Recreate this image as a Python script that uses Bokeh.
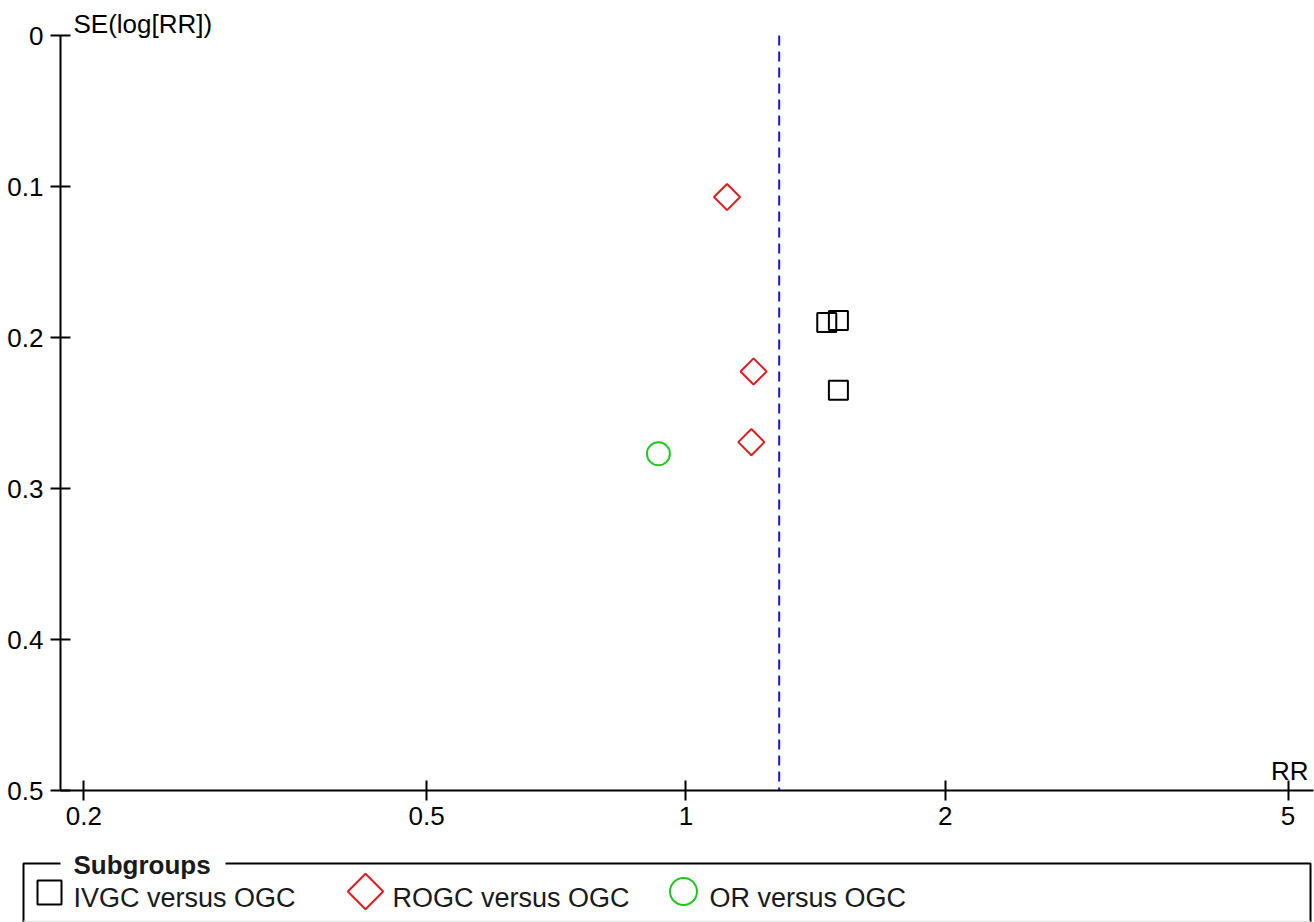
import math
import numpy as np
from bokeh.plotting import figure
from bokeh.models import (Range1d, FixedTicker, Label, ColumnDataSource,
                          LinearAxis, LogAxis, LinearScale)
from bokeh.core.properties import value
from bokeh.embed import file_html
from bokeh.resources import INLINE

# ---------------- data ----------------
subgroup_names = ["IVGC versus OGC", "ROGC versus OGC", "OR versus OGC"]

ivgc_rr = [1.457, 1.503, 1.503]
ivgc_se = [0.190, 0.1887, 0.235]

rogc_rr = [1.116, 1.198, 1.191]
rogc_se = [0.107, 0.2225, 0.2693]

or_rr = [0.929]
or_se = [0.277]

pooled_rr = 1.283

x_ticks = [0.2, 0.5, 1, 2, 5]
x_tick_labels = ["0.2", "0.5", "1", "2", "5"]
y_ticks = [0, 0.1, 0.2, 0.3, 0.4, 0.5]
y_tick_labels = ["0", "0.1", "0.2", "0.3", "0.4", "0.5"]

x_axis_title = "RR"
y_axis_title = "SE(log[RR])"
legend_title = "Subgroups"

# ---------------- layout / styles ----------------
W, H = 1314, 922
FONT = "Liberation Sans"
RED = "#dc1e1e"
GREEN = "#1ec81e"
BLUE = "#1414e6"

# axis extents (data) and where they sit on the canvas (pixels)
x_lo, x_hi = 0.18788, 5.352
se_top, se_bot = y_ticks[0], y_ticks[-1]
frame_l, frame_r, frame_t, frame_b = 60, 1313, 35, 790

dpp = (math.log10(x_hi) - math.log10(x_lo)) / (frame_r - frame_l)
x_start = 10 ** (math.log10(x_lo) - frame_l * dpp)
x_end = 10 ** (math.log10(x_hi) + (W - frame_r) * dpp)
spp = (se_bot - se_top) / (frame_b - frame_t)
y_top_val = se_top - frame_t * spp
y_bot_val = se_bot + (H - frame_b) * spp

p = figure(width=W, height=H, x_axis_type="log",
           x_range=Range1d(x_start, x_end), y_range=Range1d(y_bot_val, y_top_val),
           x_axis_location=None, y_axis_location=None,
           output_backend="svg", toolbar_location=None, min_border=0)
p.xgrid.visible = False
p.ygrid.visible = False
p.outline_line_color = None
p.background_fill_color = "white"
p.border_fill_color = "white"

# pixel-space ranges for decoration (legend box, titles)
p.extra_x_ranges = {"px": Range1d(0, W)}
p.extra_x_scales = {"px": LinearScale()}
p.extra_y_ranges = {"py": Range1d(H, 0)}
p.extra_y_scales = {"py": LinearScale()}

xaxis = LogAxis(fixed_location=se_bot, bounds=(x_lo, x_hi),
                ticker=FixedTicker(ticks=x_ticks),
                major_label_overrides=dict(zip(x_ticks, x_tick_labels)),
                major_label_standoff=6)
yaxis = LinearAxis(fixed_location=x_lo, bounds=(se_top, se_bot),
                   ticker=FixedTicker(ticks=y_ticks),
                   major_label_overrides=dict(zip(y_ticks, y_tick_labels)),
                   major_label_standoff=7)
for ax in (xaxis, yaxis):
    ax.axis_line_width = 2
    ax.axis_line_color = "black"
    ax.major_tick_line_width = 2
    ax.major_tick_line_color = "black"
    ax.major_tick_in = 10
    ax.major_tick_out = 10
    ax.minor_tick_line_color = None
    ax.major_label_text_font = FONT
    ax.major_label_text_font_size = "26px"
    ax.major_label_text_color = "black"
p.add_layout(xaxis, "below")
p.add_layout(yaxis, "left")

# pooled estimate (dashed vertical)
p.segment(x0=[pooled_rr], y0=[se_top], x1=[pooled_rr], y1=[se_bot],
          line_color=BLUE, line_width=2, line_dash="10 6")

p.scatter(ivgc_rr, ivgc_se, marker="square", size=19, fill_color=None,
          line_color="black", line_width=2)
p.scatter(rogc_rr, rogc_se, marker="square", angle=np.pi / 4, size=18.5,
          fill_color=None, line_color=RED, line_width=2)
p.scatter(or_rr, or_se, marker="circle", size=23, fill_color=None,
          line_color=GREEN, line_width=2)

# axis titles
p.add_layout(Label(x=73, y=23, x_range_name="px", y_range_name="py",
                   text=y_axis_title, text_font=FONT, text_font_size="26px",
                   text_baseline="middle", text_align="left", text_color="black"))
p.add_layout(Label(x=1308, y=770, x_range_name="px", y_range_name="py",
                   text=x_axis_title, text_font=FONT, text_font_size="26px",
                   text_baseline="middle", text_align="right", text_color="black"))

# ---------------- legend box ----------------
p.multi_line(xs=[[60, 23, 23], [225, 1310, 1310]], ys=[[863, 863, H], [863, 863, H]],
             line_color="black", line_width=2, x_range_name="px", y_range_name="py")
p.line([23, 1310], [921, 921], line_color="#e2e2e2", line_width=1.5,
       x_range_name="px", y_range_name="py")

p.text(x=[73], y=[864], text=[legend_title], text_font=value(FONT),
       text_font_style="bold", text_font_size="26px", text_baseline="middle",
       text_color="#1a1a1a", x_range_name="px", y_range_name="py")

leg_src = ColumnDataSource(dict(
    x=[49, 365, 683], y=[892, 891, 891],
    marker=["square", "square", "circle"],
    angle=[0, np.pi / 4, 0], size=[24, 25, 27],
    color=["black", RED, GREEN],
))
p.scatter(x="x", y="y", marker="marker", angle="angle", size="size",
          line_color="color", fill_color=None, line_width=2, source=leg_src,
          x_range_name="px", y_range_name="py")
p.text(x=[73, 392, 709], y=[897, 897, 897], text=subgroup_names,
       text_font=value(FONT), text_font_size="27px", text_baseline="middle",
       text_color="#1a1a1a", x_range_name="px", y_range_name="py")

open("out.html", "w").write(file_html(p, INLINE))
